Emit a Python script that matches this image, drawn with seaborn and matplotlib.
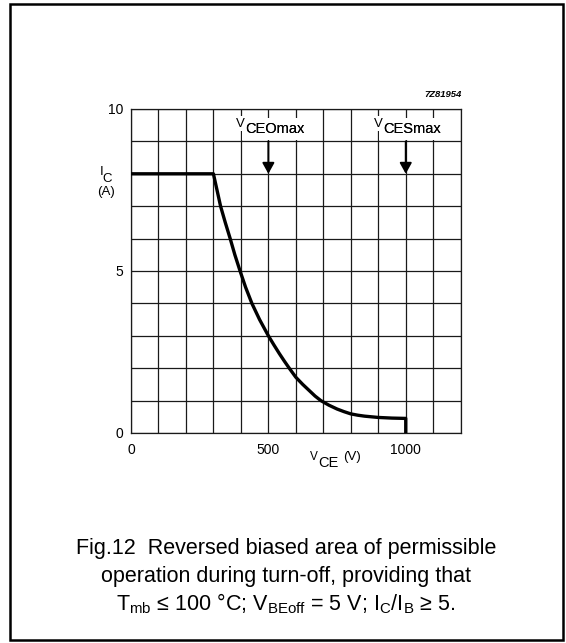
import matplotlib
matplotlib.use("Agg")
import matplotlib.pyplot as plt
import seaborn as sns
from matplotlib.patches import Rectangle

# Reverse-biased safe operating area, turn-off
v_ce = [0, 300, 326, 343, 361, 378, 397, 417, 440, 468, 500, 520, 540, 558, 576,
        600, 625, 650, 670, 691, 720, 750, 775, 800, 825, 850, 875, 900, 950, 1000, 1000]
i_c = [8, 8, 7, 6.5, 6, 5.5, 5, 4.5, 4, 3.5, 3, 2.72, 2.45, 2.22, 2,
       1.72, 1.5, 1.3, 1.14, 1, 0.86, 0.74, 0.66, 0.59, 0.55, 0.52, 0.5, 0.48, 0.46, 0.45, 0]

x_ticks = [0, 500, 1000]
y_ticks = [0, 5, 10]
x_grid = list(range(0, 1201, 100))
y_grid = list(range(0, 11, 1))

# voltage limits marked with arrows
limit_names = ["CEOmax", "CESmax"]
limit_values = [500, 1000]
limit_current = 8

caption = [
    "Fig.12  Reversed biased area of permissible",
    "operation during turn-off, providing that",
    r"$\mathregular{T_{mb}}$ ≤ 100 °C; $\mathregular{V_{BEoff}}$ = 5 V; "
    r"$\mathregular{I_C}$/$\mathregular{I_B}$ ≥ 5.",
]

sns.set_style("white")
plt.rcParams["font.family"] = ["Liberation Sans", "DejaVu Sans"]
plt.rcParams["mathtext.fontset"] = "custom"
plt.rcParams["mathtext.rm"] = "Liberation Sans"
plt.rcParams["mathtext.it"] = "Liberation Sans:italic"
plt.rcParams["mathtext.bf"] = "Liberation Sans:bold"
plt.rcParams["text.color"] = "black"
plt.rcParams["xtick.color"] = "black"
plt.rcParams["ytick.color"] = "black"
plt.rcParams["axes.labelcolor"] = "black"

W, H = 566, 643
fig = plt.figure(figsize=(W / 100, H / 100), dpi=100)
fig.patch.set_facecolor("white")


def fx(px):
    return px / W


def fy(py):
    return 1 - py / H


ax = fig.add_axes([fx(131), fy(433), (460.7 - 131) / W, (433 - 109) / H])
ax.set_axisbelow(True)

sns.lineplot(x=v_ce, y=i_c, sort=False, estimator=None, color="black",
             linewidth=2.4, ax=ax, zorder=4)

ax.set_xlim(0, 1200)
ax.set_ylim(0, 10)
ax.set_xticks(x_ticks)
ax.set_xticklabels([str(t) for t in x_ticks])
ax.set_yticks(y_ticks)
ax.set_yticklabels([str(t) for t in y_ticks])
ax.set_xticks(x_grid, minor=True)
ax.set_yticks(y_grid, minor=True)
ax.grid(which="both", color="#1a1a1a", linewidth=0.9)
ax.tick_params(which="both", length=0)
ax.tick_params(axis="x", pad=7.0, labelsize=10)
ax.tick_params(axis="y", pad=5.5, labelsize=10)
for s in ax.spines.values():
    s.set_visible(True)
    s.set_color("#1a1a1a")
    s.set_linewidth(0.9)
ax.set_xlabel("")
ax.set_ylabel("")

white_box = dict(facecolor="white", edgecolor="none", pad=2.8)
for name, v in zip(limit_names, limit_values):
    ax.annotate("", xy=(v, limit_current), xytext=(v, limit_current + 1),
                arrowprops=dict(arrowstyle="-|>,head_length=0.65,head_width=0.36",
                                color="black", lw=1.4, shrinkA=0, shrinkB=0),
                zorder=5)
    # subscript first with a white backing, then the letter above it
    ax.text(v - 83, 9.25, name, fontsize=10.5, ha="left", va="baseline",
            bbox=white_box, zorder=3)
    ax.text(v - 117, 9.45, "V", fontsize=9.5, ha="left", va="baseline",
            bbox=dict(facecolor="white", edgecolor="none", pad=1.0), zorder=3.2)
    ax.text(v - 83, 9.25, name, fontsize=10.5, ha="left", va="baseline",
            zorder=3.4)

# axis titles
fig.text(fx(99.3), fy(174.5), "I", fontsize=9.5, ha="left", va="baseline")
fig.text(fx(102.0), fy(182), "C", fontsize=9.5, ha="left", va="baseline")
fig.text(fx(105.5), fy(195.5), "(A)", fontsize=9.5, ha="center", va="baseline")

fig.text(fx(309.5), fy(459.5), "V", fontsize=8.5, ha="left", va="baseline")
fig.text(fx(318.5), fy(467), "CE", fontsize=10.5, ha="left", va="baseline")
fig.text(fx(343), fy(460), "(V)", fontsize=9.5, ha="left", va="baseline")

fig.text(fx(462), fy(96.7), "7Z81954", fontsize=6.8, fontstyle="italic",
         fontweight="bold", ha="right", va="baseline")

for line, base in zip(caption, [554, 581.7, 610]):
    fig.text(fx(286), fy(base), line, fontsize=15.5, ha="center", va="baseline")

frame = Rectangle((fx(10), fy(640)), (563 - 10) / W, (640 - 4) / H,
                  transform=fig.transFigure, fill=False, edgecolor="black",
                  linewidth=1.8)
fig.add_artist(frame)

fig.savefig("out.png", dpi=100)
